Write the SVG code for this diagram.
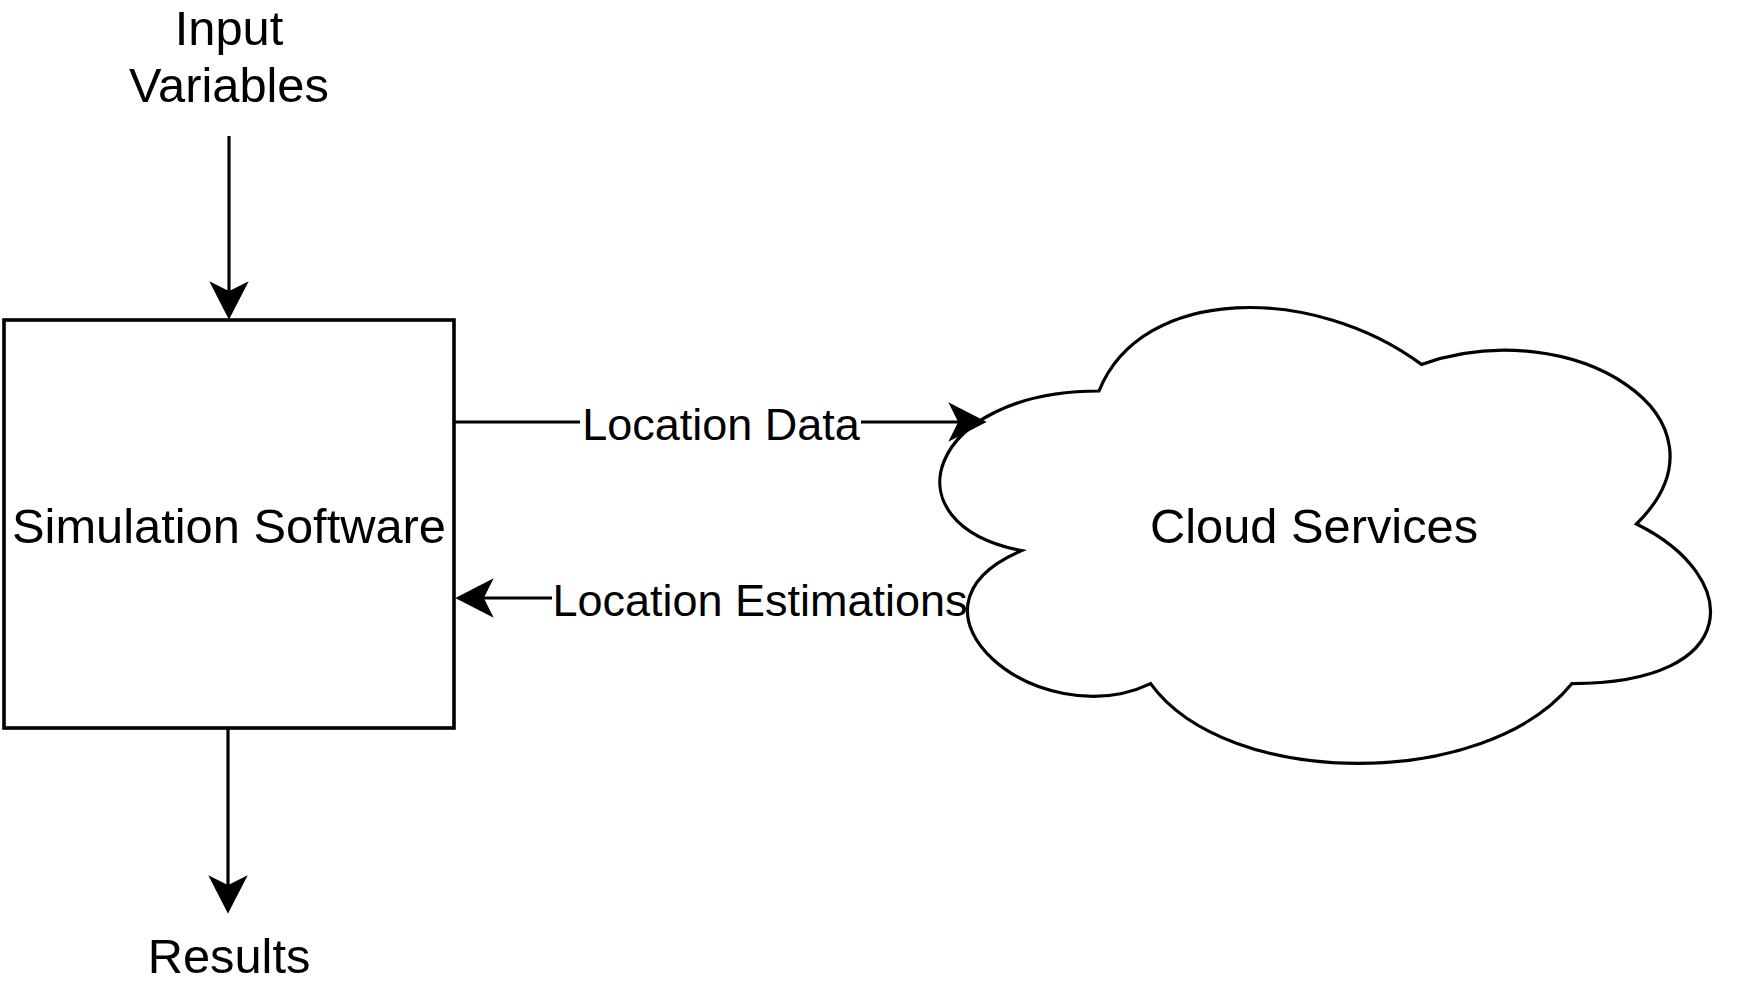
<svg xmlns="http://www.w3.org/2000/svg" width="1748" height="998" viewBox="0 0 1748 998">
<style>
  .shape { fill: #ffffff; stroke: #000000; stroke-width: 3.2; }
  .box { stroke-width: 3.6; }
  .edge { fill: none; stroke: #000000; stroke-width: 3.2; }
  .head { fill: #000000; stroke: #000000; stroke-width: 1.5; stroke-linejoin: miter; }
  .t { font-family: "Liberation Sans", Arial, Helvetica, sans-serif; font-size: 48.8px; fill: #000000; text-anchor: middle; }
  .lbl { font-family: "Liberation Sans", Arial, Helvetica, sans-serif; font-size: 45px; fill: #000000; text-anchor: middle; }
</style>
<defs>
  <path id="ah" d="M0 0 L-35 -18 L-26 0 L-35 18 Z"/>
</defs>
<rect x="0" y="0" width="1748" height="998" fill="#ffffff"/>

<g id="sim">
  <rect class="shape box" x="4" y="320" width="450" height="408"/>
  <text class="t" x="229" y="543">Simulation Software</text>
</g>

<g id="cloud">
  <path class="shape" d="M1099 391 C927 391 884 524 1021.6 550.6 C884 609.1 1038.8 736.8 1150.6 683.6 C1228 790 1486 790 1572 683.6 C1744 683.6 1744 577.2 1636.5 524 C1744 417.6 1572 311.2 1421.5 364.4 C1314 284.6 1142 284.6 1099 391 Z"/>
  <text class="t" x="1314" y="543">Cloud Services</text>
</g>

<g id="input">
  <text class="t" x="229" y="45">Input</text>
  <text class="t" x="229" y="102">Variables</text>
</g>

<g id="results">
  <text class="t" x="229" y="973">Results</text>
</g>

<g id="connectors">
  <line class="edge" x1="229" y1="136" x2="229" y2="294"/>
  <use href="#ah" class="head" transform="translate(229 318) rotate(90)"/>

  <line class="edge" x1="228" y1="728" x2="228" y2="888"/>
  <use href="#ah" class="head" transform="translate(228 912) rotate(90)"/>

  <line class="edge" x1="455" y1="422" x2="580" y2="422"/>
  <line class="edge" x1="861" y1="422" x2="962" y2="422"/>
  <use href="#ah" class="head" transform="translate(985 422)"/>

  <line class="edge" x1="552" y1="598" x2="480" y2="598"/>
  <use href="#ah" class="head" transform="translate(457 598) rotate(180)"/>
</g>

<g id="labels">
  <text class="lbl" x="721" y="440">Location Data</text>
  <text class="lbl" x="760" y="616">Location Estimations</text>
</g>
</svg>
